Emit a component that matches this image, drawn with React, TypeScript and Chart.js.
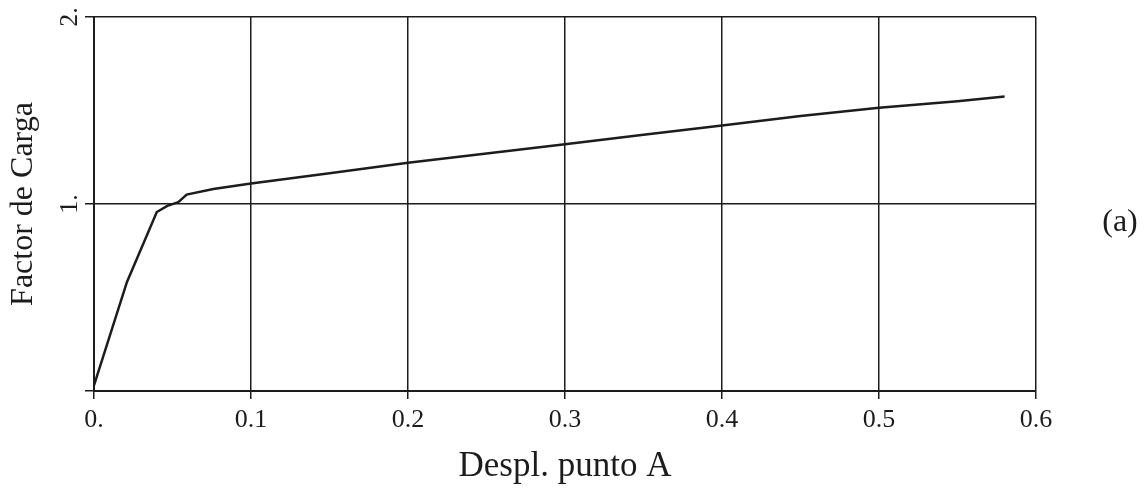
import React, { useEffect, useRef } from "react";
import { Chart, registerables } from "chart.js";

Chart.register(...registerables);

// Displacement of point A (x) and load factor (y)
const displacement = [0, 0.021, 0.04, 0.0467, 0.0537, 0.059, 0.076, 0.1, 0.15, 0.2, 0.25, 0.3, 0.35, 0.4, 0.45, 0.5, 0.55, 0.58];
const loadFactor = [0.03, 0.583, 0.957, 0.99, 1.01, 1.05, 1.08, 1.11, 1.165, 1.22, 1.27, 1.32, 1.37, 1.42, 1.47, 1.515, 1.55, 1.575];

const xTickLabels = ["0.", "0.1", "0.2", "0.3", "0.4", "0.5", "0.6"];
const yTickValues = [1, 2];
const yTickLabels = ["1.", "2."];
const xTitle = "Despl. punto A";
const yTitle = "Factor de Carga";
const panelLabel = "(a)";

const SERIF = '"Liberation Serif", "Times New Roman", serif';
const INK = "#1c1c1c";

export default function App() {
  const ref = useRef<HTMLCanvasElement>(null);

  useEffect(() => {
    const canvas = ref.current;
    if (!canvas) return;

    const textPlugin = {
      id: "extraText",
      afterDraw(chart: any) {
        const ctx = chart.ctx;
        const ys = chart.scales.y;
        const area = chart.chartArea;
        ctx.save();
        ctx.fillStyle = INK;
        ctx.font = `26px ${SERIF}`;
        ctx.textAlign = "center";
        ctx.textBaseline = "alphabetic";
        yTickValues.forEach((v, i) => {
          ctx.save();
          ctx.translate(area.left - 17, ys.getPixelForValue(v));
          ctx.rotate(-Math.PI / 2);
          ctx.fillText(yTickLabels[i], 0, 0);
          ctx.restore();
        });
        ctx.font = `32px ${SERIF}`;
        ctx.fillText(panelLabel, area.right + 84, ys.getPixelForValue(0.9) + 8);
        ctx.restore();
      },
    };

    const chart = new Chart(canvas, {
      type: "line",
      data: {
        datasets: [
          {
            data: displacement.map((x, i) => ({ x, y: loadFactor[i] })),
            borderColor: INK,
            borderWidth: 2.5,
            pointRadius: 0,
            tension: 0,
            fill: false,
          },
        ],
      },
      options: {
        animation: false,
        responsive: true,
        maintainAspectRatio: false,
        layout: { padding: { top: 17, right: 112, left: 0, bottom: 0 } },
        plugins: { legend: { display: false }, tooltip: { enabled: false } },
        scales: {
          x: {
            type: "linear",
            min: 0,
            max: 0.6,
            afterFit: (s: any) => {
              s.height = 98;
            },
            ticks: {
              stepSize: 0.1,
              autoSkip: false,
              maxRotation: 0,
              padding: 6,
              color: INK,
              font: { family: SERIF, size: 26 },
              callback: (_v: any, i: number) => xTickLabels[i],
            },
            grid: { color: INK, lineWidth: 1.5, tickLength: 8, drawTicks: true },
            border: { color: INK, width: 2 },
            title: {
              display: true,
              text: xTitle,
              color: INK,
              font: { family: SERIF, size: 35 },
              padding: { top: 0, bottom: 1 },
            },
          },
          y: {
            type: "linear",
            min: 0,
            max: 2,
            afterFit: (s: any) => {
              s.width = 94;
            },
            ticks: { stepSize: 1, display: false },
            grid: { color: INK, lineWidth: 1.5, tickLength: 9, drawTicks: true },
            border: { color: INK, width: 2 },
            title: {
              display: true,
              text: yTitle,
              color: INK,
              font: { family: SERIF, size: 32 },
              padding: { top: 4, bottom: 0 },
            },
          },
        },
      },
      plugins: [textPlugin],
    });

    return () => chart.destroy();
  }, []);

  return (
    <div style={{ position: "fixed", left: 0, top: 0, width: 1148, height: 489, background: "#fff" }}>
      <canvas ref={ref} />
    </div>
  );
}
